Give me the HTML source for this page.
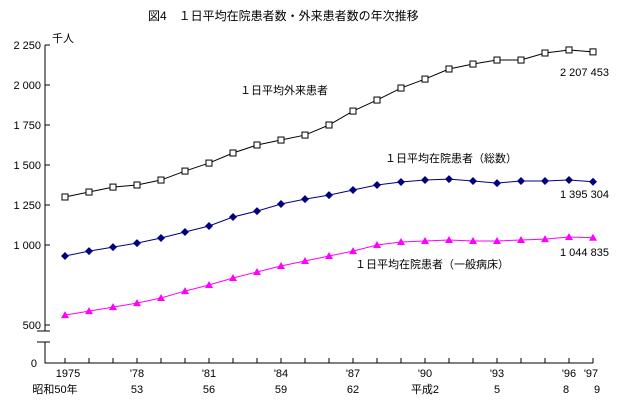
<!DOCTYPE html>
<html><head><meta charset="utf-8"><style>
body{margin:0;background:#fff;}
svg text{font-family:"Liberation Sans","Noto Sans CJK JP",sans-serif;font-size:11px;fill:#000;}
</style></head><body>
<svg id="c" width="627" height="400" xmlns="http://www.w3.org/2000/svg">
<text x="148" y="20" style="font-size:12px">図4　１日平均在院患者数・外来患者数の年次推移</text>
<text x="52" y="42">千人</text>
<g id="axes"></g><g id="series"></g>
<text x="240" y="94">１日平均外来患者</text>
<text x="385" y="162">１日平均在院患者（総数）</text>
<text x="355" y="268">１日平均在院患者（一般病床）</text>
<text x="560" y="76">2 207 453</text>
<text x="560" y="198">1 395 304</text>
<text x="560" y="256">1 044 835</text>
</svg>
<script>
const years=[1975,1976,1977,1978,1979,1980,1981,1982,1983,1984,1985,1986,1987,1988,1989,1990,1991,1992,1993,1994,1995,1996,1997];
const outpatient=[1300,1331,1362,1375,1406,1462,1512,1575,1625,1656,1687,1750,1837,1906,1981,2037,2100,2131,2156,2156,2200,2219,2207];
const inpatientTotal=[931,962,987,1012,1044,1081,1119,1175,1212,1256,1287,1312,1344,1375,1394,1406,1412,1400,1387,1400,1400,1406,1395];
const inpatientGeneral=[562,587,612,637,669,712,750,794,831,869,900,931,962,1000,1019,1025,1031,1025,1025,1031,1037,1050,1045];
const yTicks=[500,1000,1250,1500,1750,2000,2250];
const yTickLabels=["500","1 000","1 250","1 500","1 750","2 000","2 250"];
const xLabels1=[[1975,"1975"],[1978,"'78"],[1981,"'81"],[1984,"'84"],[1987,"'87"],[1990,"'90"],[1993,"'93"],[1996,"'96"],[1997,"'97"]];
const xLabels2=[[1975,"昭和50年"],[1978,"53"],[1981,"56"],[1984,"59"],[1987,"62"],[1990,"平成2"],[1993,"5"],[1996,"8"],[1997,"9"]];
const NS="http://www.w3.org/2000/svg";
const X=y=>65+(y-1975)*24;
const Y=v=>325-(v-500)/250*40;
function mk(t,a,p){const e=document.createElementNS(NS,t);for(const k in a)e.setAttribute(k,a[k]);p.appendChild(e);return e;}
const ax=document.getElementById('axes'),se=document.getElementById('series');
let l;
l=mk('path',{d:'M45,45V331M45,342V363H593',stroke:'#000',fill:'none','stroke-width':1},ax);

l=mk('path',{d:'M37,331H50M37,342H50',stroke:'#000','stroke-width':1},ax);

yTicks.forEach((v,i)=>{
 const t=mk('line',{x1:45,x2:50,y1:Y(v),y2:Y(v),stroke:'#000'},ax);
 
 if(yTickLabels[i]){const tx=mk('text',{x:41,y:Y(v)+4,'text-anchor':'end'},ax);tx.textContent=yTickLabels[i];
 }
});
const z=mk('text',{x:37,y:367,'text-anchor':'end'},ax);z.textContent="0";

years.forEach(y=>{const t=mk('line',{x1:X(y),x2:X(y),y1:358,y2:363,stroke:'#000'},ax);
 });
xLabels1.forEach(([y,s])=>{const t=mk('text',{x:X(y)+(y==1997?-2:0)+(y==1975?3:0),y:377,'text-anchor':'middle'},ax);t.textContent=s;
 });
xLabels2.forEach(([y,s])=>{const t=mk('text',{x:X(y)+(y==1975?-10:0)+(y==1996?-3:0)+(y==1997?4:0),y:393,'text-anchor':'middle'},ax);t.textContent=s;
 });
function line(data,color,name){
 const p=mk('polyline',{points:data.map((v,i)=>X(years[i])+','+Y(v)).join(' '),fill:'none',stroke:color,'stroke-width':1},se);
 
}
line(outpatient,'#000','outpatient');
line(inpatientTotal,'#000080','inpatient-total');
line(inpatientGeneral,'#ff00ff','inpatient-general');
outpatient.forEach((v,i)=>{const m=mk('rect',{x:X(years[i])-3,y:Y(v)-3,width:6,height:6,fill:'#fff',stroke:'#000'},se);
 });
inpatientTotal.forEach((v,i)=>{const x=X(years[i]),y=Y(v);const m=mk('polygon',{points:`${x},${y-4} ${x+4},${y} ${x},${y+4} ${x-4},${y}`,fill:'#000080'},se);
 });
inpatientGeneral.forEach((v,i)=>{const x=X(years[i]),y=Y(v);const m=mk('polygon',{points:`${x},${y-4} ${x+4},${y+3} ${x-4},${y+3}`,fill:'#ff00ff'},se);
 });
</script>
</body></html>
